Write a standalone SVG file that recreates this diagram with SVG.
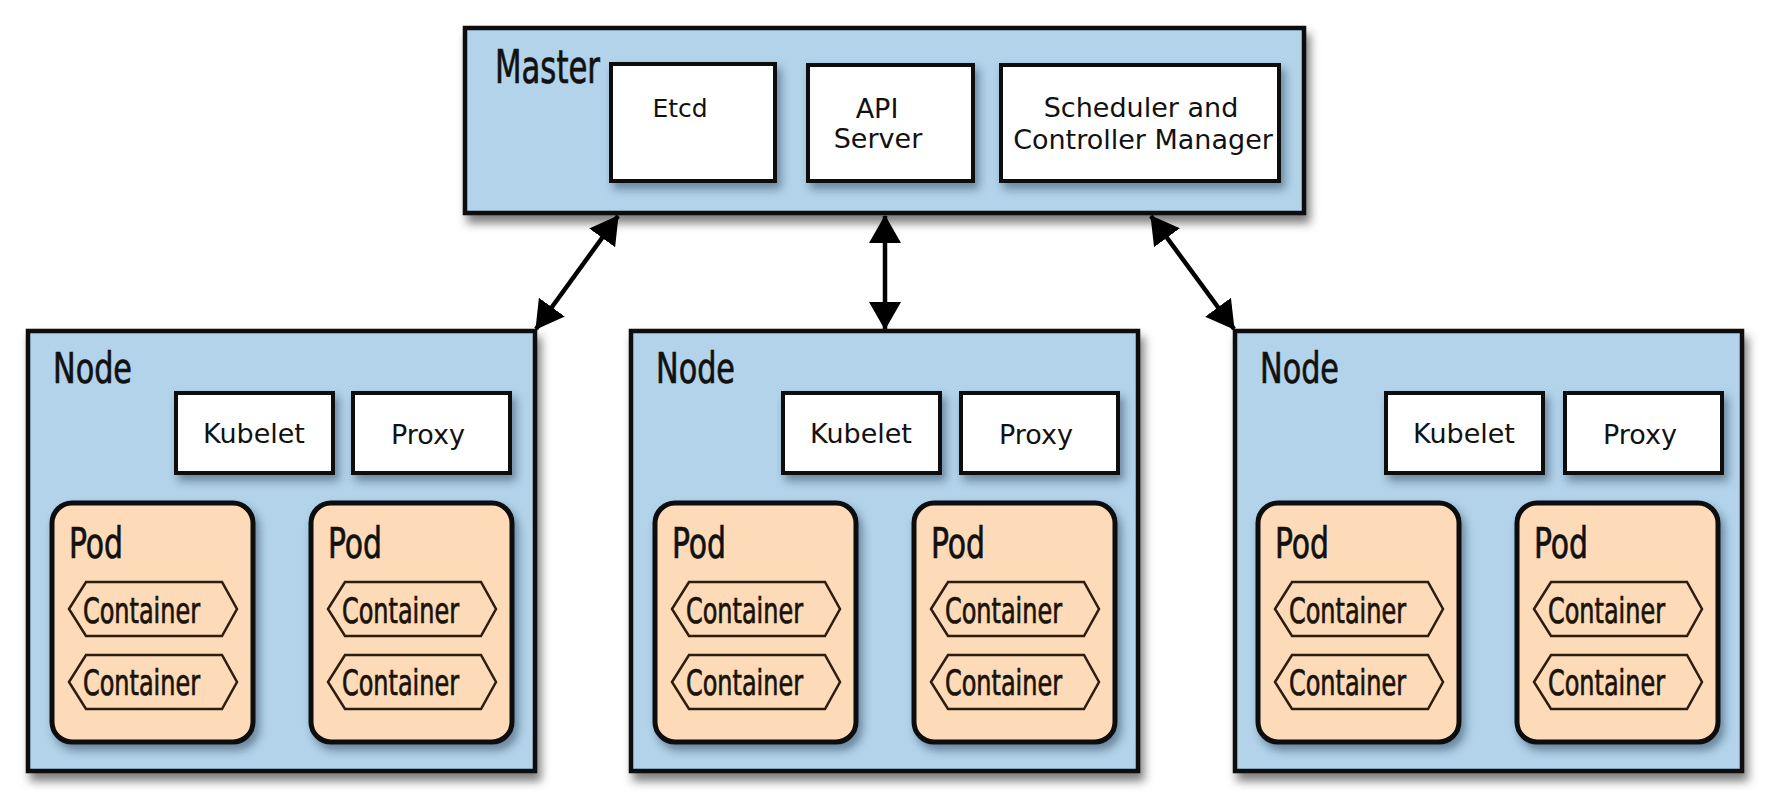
<svg xmlns="http://www.w3.org/2000/svg" width="1778" height="799" viewBox="0 0 1778 799">
  <defs>
    <filter id="shadow" x="-10%" y="-10%" width="130%" height="135%">
      <feDropShadow dx="4" dy="8" stdDeviation="5" flood-color="#000" flood-opacity="0.5"/>
    </filter>
    <filter id="shadowSm" x="-10%" y="-10%" width="130%" height="140%">
      <feDropShadow dx="4" dy="6" stdDeviation="4" flood-color="#1a3550" flood-opacity="0.5"/>
    </filter>
    <marker id="head" viewBox="0 0 28 32" refX="27" refY="16" markerWidth="28" markerHeight="32" markerUnits="userSpaceOnUse" orient="auto-start-reverse">
      <path d="M0,0 L28,16 L0,32 Z" fill="#000"/>
    </marker>
  </defs>
  <style>
    .outer { fill: #b2d3ea; stroke: #0a0a0a; stroke-width: 4.5; }
    .box { fill: #ffffff; stroke: #0a0a0a; stroke-width: 4; }
    .pod { fill: #fddbb8; stroke: #0a0a0a; stroke-width: 5; }
    .hex { fill: #fddbb8; stroke: #2e1c0e; stroke-width: 2.5; stroke-linejoin: miter; }
    .title { font-family: "Liberation Sans Narrow", "DejaVu Sans Condensed", "Liberation Sans", sans-serif; fill: #111; stroke: #111; stroke-width: 0.7; }
    .t-master { font-size: 47px; }
    .t-node { font-size: 43px; }
    .t-pod { font-size: 43px; }
    .t-cont { font-size: 35px; fill: #1a1208; stroke: #1a1208; }
    .lbl { font-family: "DejaVu Sans", Verdana, sans-serif; font-size: 27px; fill: #111; text-anchor: middle; }
    .conn { stroke: #000; stroke-width: 4.5; fill: none; marker-start: url(#head); marker-end: url(#head); }
  </style>

  <rect width="1778" height="799" fill="#ffffff"/>

  <g id="master">
    <rect class="outer" x="465" y="28" width="839" height="185" filter="url(#shadow)"/>
    <text class="title t-master" x="495" y="83" textLength="105" lengthAdjust="spacingAndGlyphs">Master</text>
    <g id="etcd">
      <rect class="box" x="611" y="64" width="164" height="117" filter="url(#shadowSm)"/>
      <text class="lbl" x="680" y="117" style="font-size:25px">Etcd</text>
    </g>
    <g id="api-server">
      <rect class="box" x="808" y="65" width="165" height="116" filter="url(#shadowSm)"/>
      <text class="lbl" x="877" y="118">API</text>
      <text class="lbl" x="878" y="148">Server</text>
    </g>
    <g id="scheduler">
      <rect class="box" x="1001" y="65" width="278" height="116" filter="url(#shadowSm)"/>
      <text class="lbl" x="1141" y="117">Scheduler and</text>
      <text class="lbl" x="1143" y="149">Controller Manager</text>
    </g>
  </g>

  <g id="node-1" transform="translate(27,0)">
    <rect class="outer" x="1" y="331" width="507" height="440" filter="url(#shadow)"/>
    <text class="title t-node" x="26" y="383" textLength="79" lengthAdjust="spacingAndGlyphs">Node</text>
    <g id="kubelet-1">
      <rect class="box" x="149" y="393" width="157" height="80" filter="url(#shadowSm)"/>
      <text class="lbl" x="227" y="443">Kubelet</text>
    </g>
    <g id="proxy-1">
      <rect class="box" x="326" y="393" width="157" height="80" filter="url(#shadowSm)"/>
      <text class="lbl" x="401" y="444">Proxy</text>
    </g>
    <g id="pod-1a">
      <rect class="pod" x="25" y="503" width="201" height="239" rx="20" filter="url(#shadowSm)"/>
      <text class="title t-pod" x="42" y="558" textLength="54" lengthAdjust="spacingAndGlyphs">Pod</text>
      <polygon class="hex" points="42,609 59,582 195,582 210,609 195,636 59,636"/>
      <text class="title t-cont" x="56" y="623" textLength="117" lengthAdjust="spacingAndGlyphs">Container</text>
      <polygon class="hex" points="42,682 59,655 195,655 210,682 195,709 59,709"/>
      <text class="title t-cont" x="56" y="695" textLength="117" lengthAdjust="spacingAndGlyphs">Container</text>
    </g>
    <g id="pod-1b">
      <rect class="pod" x="284" y="503" width="201" height="239" rx="20" filter="url(#shadowSm)"/>
      <text class="title t-pod" x="301" y="558" textLength="54" lengthAdjust="spacingAndGlyphs">Pod</text>
      <polygon class="hex" points="301,609 318,582 454,582 469,609 454,636 318,636"/>
      <text class="title t-cont" x="315" y="623" textLength="117" lengthAdjust="spacingAndGlyphs">Container</text>
      <polygon class="hex" points="301,682 318,655 454,655 469,682 454,709 318,709"/>
      <text class="title t-cont" x="315" y="695" textLength="117" lengthAdjust="spacingAndGlyphs">Container</text>
    </g>
  </g>

  <g id="node-2" transform="translate(630,0)">
    <rect class="outer" x="1" y="331" width="507" height="440" filter="url(#shadow)"/>
    <text class="title t-node" x="26" y="383" textLength="79" lengthAdjust="spacingAndGlyphs">Node</text>
    <g id="kubelet-2">
      <rect class="box" x="153" y="393" width="157" height="80" filter="url(#shadowSm)"/>
      <text class="lbl" x="231" y="443">Kubelet</text>
    </g>
    <g id="proxy-2">
      <rect class="box" x="331" y="393" width="157" height="80" filter="url(#shadowSm)"/>
      <text class="lbl" x="406" y="444">Proxy</text>
    </g>
    <g id="pod-2a">
      <rect class="pod" x="25" y="503" width="201" height="239" rx="20" filter="url(#shadowSm)"/>
      <text class="title t-pod" x="42" y="558" textLength="54" lengthAdjust="spacingAndGlyphs">Pod</text>
      <polygon class="hex" points="42,609 59,582 195,582 210,609 195,636 59,636"/>
      <text class="title t-cont" x="56" y="623" textLength="117" lengthAdjust="spacingAndGlyphs">Container</text>
      <polygon class="hex" points="42,682 59,655 195,655 210,682 195,709 59,709"/>
      <text class="title t-cont" x="56" y="695" textLength="117" lengthAdjust="spacingAndGlyphs">Container</text>
    </g>
    <g id="pod-2b">
      <rect class="pod" x="284" y="503" width="201" height="239" rx="20" filter="url(#shadowSm)"/>
      <text class="title t-pod" x="301" y="558" textLength="54" lengthAdjust="spacingAndGlyphs">Pod</text>
      <polygon class="hex" points="301,609 318,582 454,582 469,609 454,636 318,636"/>
      <text class="title t-cont" x="315" y="623" textLength="117" lengthAdjust="spacingAndGlyphs">Container</text>
      <polygon class="hex" points="301,682 318,655 454,655 469,682 454,709 318,709"/>
      <text class="title t-cont" x="315" y="695" textLength="117" lengthAdjust="spacingAndGlyphs">Container</text>
    </g>
  </g>

  <g id="node-3" transform="translate(1234,0)">
    <rect class="outer" x="1" y="331" width="507" height="440" filter="url(#shadow)"/>
    <text class="title t-node" x="26" y="383" textLength="79" lengthAdjust="spacingAndGlyphs">Node</text>
    <g id="kubelet-3">
      <rect class="box" x="152" y="393" width="157" height="80" filter="url(#shadowSm)"/>
      <text class="lbl" x="230" y="443">Kubelet</text>
    </g>
    <g id="proxy-3">
      <rect class="box" x="331" y="393" width="157" height="80" filter="url(#shadowSm)"/>
      <text class="lbl" x="406" y="444">Proxy</text>
    </g>
    <g id="pod-3a">
      <rect class="pod" x="24" y="503" width="201" height="239" rx="20" filter="url(#shadowSm)"/>
      <text class="title t-pod" x="41" y="558" textLength="54" lengthAdjust="spacingAndGlyphs">Pod</text>
      <polygon class="hex" points="41,609 58,582 194,582 209,609 194,636 58,636"/>
      <text class="title t-cont" x="55" y="623" textLength="117" lengthAdjust="spacingAndGlyphs">Container</text>
      <polygon class="hex" points="41,682 58,655 194,655 209,682 194,709 58,709"/>
      <text class="title t-cont" x="55" y="695" textLength="117" lengthAdjust="spacingAndGlyphs">Container</text>
    </g>
    <g id="pod-3b">
      <rect class="pod" x="283" y="503" width="201" height="239" rx="20" filter="url(#shadowSm)"/>
      <text class="title t-pod" x="300" y="558" textLength="54" lengthAdjust="spacingAndGlyphs">Pod</text>
      <polygon class="hex" points="300,609 317,582 453,582 468,609 453,636 317,636"/>
      <text class="title t-cont" x="314" y="623" textLength="117" lengthAdjust="spacingAndGlyphs">Container</text>
      <polygon class="hex" points="300,682 317,655 453,655 468,682 453,709 317,709"/>
      <text class="title t-cont" x="314" y="695" textLength="117" lengthAdjust="spacingAndGlyphs">Container</text>
    </g>
  </g>

  <g id="connectors">
    <path class="conn" d="M618,216 L536,329"/>
    <path class="conn" d="M885,216 L885,329"/>
    <path class="conn" d="M1151,216 L1234,329"/>
  </g>
</svg>
